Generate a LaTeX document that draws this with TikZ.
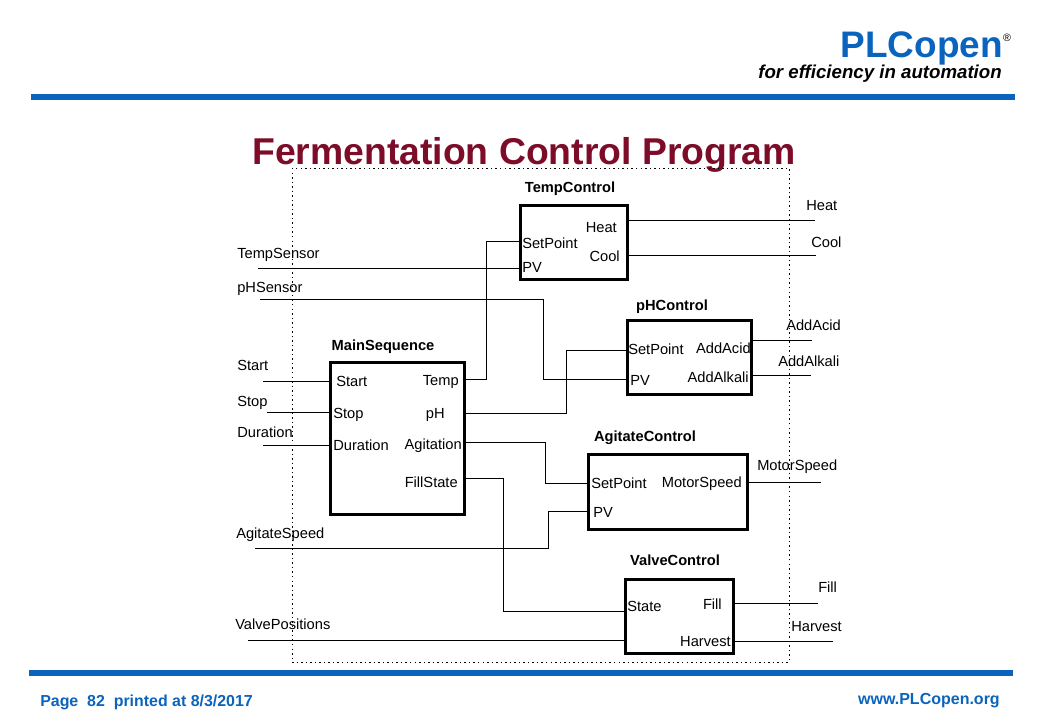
\documentclass[tikz,border=0pt]{standalone}
\usepackage{fontspec}
\setmainfont{Liberation Sans}
\usetikzlibrary{calc}
\definecolor{plcblue}{RGB}{10,100,190}
\definecolor{titlered}{RGB}{125,12,40}

\begin{document}
\begin{tikzpicture}[
    x=0.75pt, y=-0.75pt,
    block/.style={draw=black, line width=2.25pt, fill=white, minimum width=#1, inner sep=0pt, outer sep=0pt},
    wire/.style={draw=black, line width=0.65pt},
    bar/.style={draw=plcblue, line width=3.9pt},
    sig/.style={inner sep=0pt, anchor=west, text height=8pt, text depth=0pt, font=\fontsize{11}{13}\selectfont},
    pinr/.style={inner sep=0pt, anchor=east, text height=8pt, text depth=0pt, font=\fontsize{11}{13}\selectfont},
    blockname/.style={inner sep=0pt, text height=8pt, text depth=0pt, font=\bfseries\fontsize{11}{12}\selectfont}
]
    \useasboundingbox (0,0) rectangle (1040,720);

    % Slide frame
    \node[anchor=east, inner sep=0pt, text height=20pt, text depth=0pt, text=plcblue, font=\bfseries\fontsize{27.7}{30}\selectfont] (brand) at (1003,44) {PLCopen};
    \node[anchor=center, inner sep=0pt, font=\fontsize{8}{9}\selectfont] (regmark) at (1007,38) {®};
    \node[anchor=east, inner sep=0pt, text height=10pt, text depth=0pt, font=\bfseries\itshape\fontsize{14}{16}\selectfont] (motto) at (1002,72) {for efficiency in automation};
    \coordinate (topbar_l) at (31,97);
    \coordinate (topbar_r) at (1015,97);
    \draw[bar] (topbar_l) -- (topbar_r);
    \node[inner sep=0pt, text height=20pt, text depth=0pt, text=titlered, font=\bfseries\fontsize{28}{32}\selectfont] (title) at (524,151) {Fermentation Control Program};
    \coordinate (botbar_l) at (29,673);
    \coordinate (botbar_r) at (1013,673);
    \draw[bar] (botbar_l) -- (botbar_r);
    \node[anchor=west, inner sep=0pt, text height=8.5pt, text depth=0pt, text=plcblue, font=\bfseries\fontsize{11.95}{14}\selectfont] (pageinfo) at (40,701) {Page\ \ 82\ \ printed at 8/3/2017};
    \node[anchor=east, inner sep=0pt, text height=8.5pt, text depth=0pt, text=plcblue, font=\bfseries\fontsize{12}{14}\selectfont] (website) at (1000,699) {www.PLCopen.org};

    % Program boundary
    \coordinate (bound_nw) at (292,168);
    \coordinate (bound_se) at (789,662);
    \draw[black, line width=0.7pt, dash pattern=on 1.1pt off 2.3pt] (bound_nw) rectangle (bound_se);

    % Function blocks
    \node[block=107*0.75pt, minimum height=55.5pt] (tempcontrol) at (573.5,243) {};
    \node[block=124*0.75pt, minimum height=55.5pt] (phcontrol) at (689,358) {};
    \node[block=134*0.75pt, minimum height=114pt] (mainseq) at (397,439) {};
    \node[block=159*0.75pt, minimum height=55.5pt] (agitate) at (667.5,492) {};
    \node[block=108*0.75pt, minimum height=55.5pt] (valve) at (679,616) {};

    % Block names
    \node[blockname] (tempcontrol_name) at (570,187) {TempControl};
    \node[blockname] (phcontrol_name) at (672,305) {pHControl};
    \node[blockname] (mainseq_name) at (383,345) {MainSequence};
    \node[blockname] (agitate_name) at (645,436) {AgitateControl};
    \node[blockname] (valve_name) at (675,560) {ValveControl};

    % Pin labels
    \node[sig] (tc_setpoint) at (522,243) {SetPoint};
    \node[sig] (tc_pv) at (522,267) {PV};
    \node[pinr] (tc_heat) at (617,227) {Heat};
    \node[pinr] (tc_cool) at (620,256) {Cool};
    \node[sig] (ph_setpoint) at (628,349) {SetPoint};
    \node[sig] (ph_pv) at (630,380) {PV};
    \node[pinr] (ph_acid) at (751,348) {AddAcid};
    \node[pinr] (ph_alkali) at (749,377) {AddAlkali};
    \node[sig] (ms_start) at (336,381) {Start};
    \node[sig] (ms_stop) at (333,413) {Stop};
    \node[sig] (ms_duration) at (333,445) {Duration};
    \node[pinr] (ms_temp) at (459,380) {Temp};
    \node[pinr] (ms_ph) at (445,413) {pH};
    \node[pinr] (ms_agitation) at (462,444) {Agitation};
    \node[pinr] (ms_fillstate) at (458,482) {FillState};
    \node[sig] (ag_setpoint) at (591,483) {SetPoint};
    \node[sig] (ag_pv) at (593,512) {PV};
    \node[pinr] (ag_motor) at (742,482) {MotorSpeed};
    \node[sig] (va_state) at (627,606) {State};
    \node[pinr] (va_fill) at (722,604) {Fill};
    \node[pinr] (va_harvest) at (731,641) {Harvest};

    % External signal names
    \node[sig] (tempsensor) at (237,253) {TempSensor};
    \node[sig] (phsensor) at (237,287) {pHSensor};
    \node[sig] (start) at (237,365) {Start};
    \node[sig] (stop) at (237,401) {Stop};
    \node[sig] (duration) at (237,432) {Duration};
    \node[sig] (agitatespeed) at (236,533) {AgitateSpeed};
    \node[sig] (valvepos) at (235,624) {ValvePositions};
    \node[sig] (heat) at (806,205) {Heat};
    \node[sig] (cool) at (811,242) {Cool};
    \node[sig] (addacid) at (786,325) {AddAcid};
    \node[sig] (addalkali) at (778,361) {AddAlkali};
    \node[sig] (motorspeed) at (757,465) {MotorSpeed};
    \node[sig] (fill) at (818,587) {Fill};
    \node[sig] (harvest) at (791,626) {Harvest};

    % Free wire ends
    \coordinate (tempsensor_end) at (258,268);
    \coordinate (phsensor_end) at (260,299);
    \coordinate (start_end) at (263,381);
    \coordinate (stop_end) at (267,412);
    \coordinate (duration_end) at (263,445);
    \coordinate (agitatespeed_end) at (255,548);
    \coordinate (valvepos_end) at (248,640);
    \coordinate (heat_end) at (815,220);
    \coordinate (cool_end) at (816,255);
    \coordinate (addacid_end) at (812,340);
    \coordinate (addalkali_end) at (811,375);
    \coordinate (motorspeed_end) at (821,482);
    \coordinate (fill_end) at (818,603);
    \coordinate (harvest_end) at (833,641);

    % Inputs
    \draw[wire] (tempsensor_end) -- (tempsensor_end -| tempcontrol.west);
    \draw[wire] (phsensor_end) -| (543,379) -- (phcontrol.west |- 0,379);
    \draw[wire] (start_end) -- (start_end -| mainseq.west);
    \draw[wire] (stop_end) -- (stop_end -| mainseq.west);
    \draw[wire] (duration_end) -- (duration_end -| mainseq.west);
    \draw[wire] (agitatespeed_end) -| (548,511) -- (agitate.west |- 0,511);
    \draw[wire] (valvepos_end) -- (valvepos_end -| valve.west);

    % MainSequence to controllers
    \draw[wire] (mainseq.east |- 0,379) -| (486,241) -- (tempcontrol.west |- 0,241);
    \draw[wire] (mainseq.east |- 0,413) -| (566,350) -- (phcontrol.west |- 0,350);
    \draw[wire] (mainseq.east |- 0,442) -| (545,483) -- (agitate.west |- 0,483);
    \draw[wire] (mainseq.east |- 0,478) -| (503,611) -- (valve.west |- 0,611);

    % Outputs
    \draw[wire] (tempcontrol.east |- heat_end) -- (heat_end);
    \draw[wire] (tempcontrol.east |- cool_end) -- (cool_end);
    \draw[wire] (phcontrol.east |- addacid_end) -- (addacid_end);
    \draw[wire] (phcontrol.east |- addalkali_end) -- (addalkali_end);
    \draw[wire] (agitate.east |- motorspeed_end) -- (motorspeed_end);
    \draw[wire] (valve.east |- fill_end) -- (fill_end);
    \draw[wire] (valve.east |- harvest_end) -- (harvest_end);

\end{tikzpicture}
\end{document}
